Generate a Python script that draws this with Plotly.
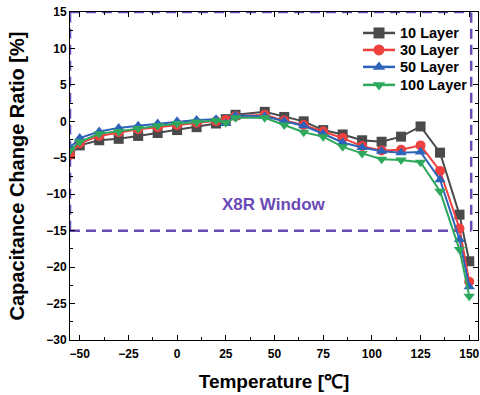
import plotly.graph_objects as go

temps = [-55, -50, -40, -30, -20, -10, 0, 10, 20, 25, 30, 45, 55, 65, 75, 85, 95, 105, 115, 125, 135, 145, 150]

layer10 = [-4.5, -3.3, -2.6, -2.4, -2.0, -1.6, -1.2, -0.8, -0.3, 0.3, 0.9, 1.3, 0.6, 0.0, -1.2, -1.8, -2.6, -2.8, -2.1, -0.7, -4.3, -12.8, -19.2]
layer30 = [-4.6, -3.0, -2.0, -1.5, -1.1, -0.8, -0.5, -0.2, 0.0, 0.2, 0.7, 0.9, 0.1, -0.5, -1.4, -2.3, -3.4, -4.0, -3.9, -3.3, -6.8, -14.7, -22.0]
layer50 = [-3.6, -2.3, -1.4, -0.9, -0.6, -0.3, 0.0, 0.2, 0.3, -0.3, 0.8, 0.7, 0.0, -0.6, -1.7, -2.9, -3.6, -4.1, -4.3, -4.2, -8.0, -16.2, -22.7]
layer100 = [-4.0, -2.8, -1.7, -1.4, -1.0, -0.6, -0.3, -0.1, 0.1, -0.2, 0.5, 0.5, -0.5, -1.5, -2.1, -3.5, -4.4, -5.2, -5.3, -5.6, -9.6, -17.6, -24.0]

names = ["10 Layer", "30 Layer", "50 Layer", "100 Layer"]
colors = ["#4a4a4a", "#ef4040", "#2d63b8", "#2ea85c"]
symbols = ["square", "circle", "triangle-up", "triangle-down"]
values = [layer10, layer30, layer50, layer100]

x_ticks = [-50, -25, 0, 25, 50, 75, 100, 125, 150]
y_ticks = [-30, -25, -20, -15, -10, -5, 0, 5, 10, 15]

window_x = [-55, 151]
window_y = [-15, 15]
purple = "#6a4bb5"
FONT = "Arial, Liberation Sans"

fig = go.Figure()
for name, vals, color, sym in zip(names, values, colors, symbols):
    fig.add_trace(go.Scatter(
        x=temps, y=vals, name=name, mode="lines+markers", showlegend=False,
        line=dict(color=color, width=2),
        marker=dict(symbol=sym, size=10, color=color),
    ))

# Manual legend on an overlay axis measured in page pixels (plot area spans 70..478 x, 12..340.5 y)
leg_rows = [33, 50, 67, 85]
for name, color, sym, yy in zip(names, colors, symbols, leg_rows):
    fig.add_trace(go.Scatter(
        x=[363, 379, 395], y=[yy, yy, yy], xaxis="x2", yaxis="y2",
        mode="lines", line=dict(color=color, width=2.5), showlegend=False, hoverinfo="skip",
    ))
    fig.add_trace(go.Scatter(
        x=[379], y=[yy], xaxis="x2", yaxis="y2",
        mode="markers", marker=dict(symbol=sym, size=11, color=color), showlegend=False, hoverinfo="skip",
    ))
    fig.add_annotation(x=398, y=yy, xref="x2", yref="y2", text="<b>" + name + "</b>",
                       showarrow=False, xanchor="left", yanchor="middle",
                       font=dict(size=14.5, color="black", family=FONT))

dash = "10px,6px"
for (x0, x1, y0, y1) in [
    (window_x[0], window_x[1], window_y[1], window_y[1]),
    (window_x[0], window_x[1], window_y[0], window_y[0]),
    (window_x[0], window_x[0], window_y[0], window_y[1]),
    (window_x[1], window_x[1], window_y[0], window_y[1]),
]:
    fig.add_shape(type="line", xref="x", yref="y", x0=x0, x1=x1, y0=y0, y1=y1,
                  line=dict(color=purple, width=2.5, dash=dash), layer="below")

fig.add_annotation(x=50, y=-11.4, xref="x", yref="y", text="<b>X8R Window</b>", showarrow=False,
                   font=dict(size=17, color=purple, family=FONT))

axis_common = dict(
    showline=True, linecolor="black", linewidth=1, mirror="allticks",
    ticks="inside", ticklen=5, tickwidth=1, tickcolor="black",
    showgrid=False, zeroline=False, automargin=False,
    tickfont=dict(size=12, color="black", family=FONT, weight="bold"),
)

xaxis = dict(
    range=[-55, 154.5], tickmode="array", tickvals=x_ticks, ticklabelstandoff=3,
    minor=dict(ticks="inside", ticklen=3, dtick=12.5, tick0=-50, tickcolor="black"),
    title=dict(text="<b>Temperature [℃]</b>", font=dict(size=19, color="black", family=FONT), standoff=14),
    **axis_common,
)
yaxis = dict(
    range=[-30, 15], tickmode="array", tickvals=y_ticks,
    minor=dict(ticks="inside", ticklen=3, dtick=2.5, tick0=0, tickcolor="black"),
    title=dict(text="<b>Capacitance Change Ratio [%]</b>", font=dict(size=20, color="black", family=FONT), standoff=16),
    **axis_common,
)

fig.update_layout(
    width=480, height=395,
    margin=dict(l=70, r=2, t=12, b=54.5),
    plot_bgcolor="white", paper_bgcolor="white",
    font=dict(family=FONT, color="black"),
    showlegend=False,
    xaxis=xaxis,
    yaxis=yaxis,
    xaxis2=dict(overlaying="x", range=[70, 478], visible=False, anchor="y2"),
    yaxis2=dict(overlaying="y", range=[340.5, 12], visible=False, anchor="x2"),
)

fig.write_html("out.html", config={"displayModeBar": False},
               post_script="document.body.style.margin='0';document.body.style.overflow='hidden';")
